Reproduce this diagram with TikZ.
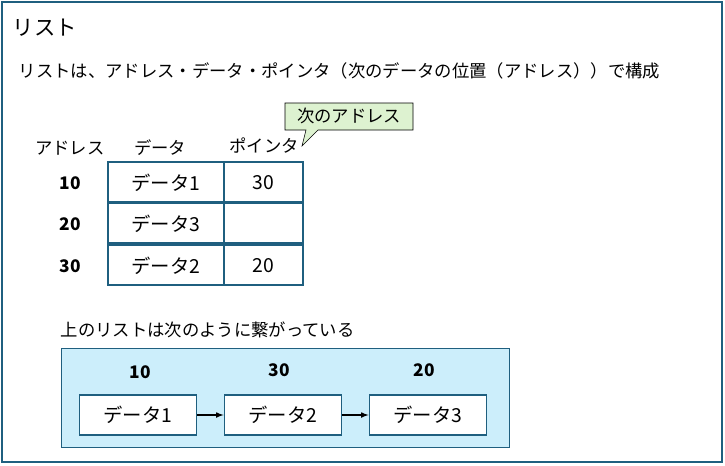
\documentclass[tikz,border=0pt]{standalone}
\usepackage{fontspec}
\setmainfont{Noto Sans CJK JP}
\definecolor{frame}{HTML}{1F5F7F}
\definecolor{skyfill}{HTML}{CCEEFB}
\definecolor{notefill}{HTML}{DDF2D0}
\tikzset{
  cell/.style={draw=frame, line width=1.2pt},
  item/.style={draw=frame, line width=1.2pt, fill=white, minimum width=88pt, minimum height=30pt, font=\fontsize{14.5}{16}\selectfont},
  lbl/.style={font=\fontsize{13}{15}\selectfont},
  num/.style={font=\fontsize{13}{15}\selectfont\bfseries},
  big/.style={font=\fontsize{14.5}{16}\selectfont},
  link/.style={-latex, line width=0.9pt}
}
\begin{document}
\begin{tikzpicture}[x=0.75pt,y=-0.75pt]
\useasboundingbox (0,0) rectangle (725,465);
\draw[frame, line width=1.5pt, fill=white] (2,2) rectangle (722,462);
\node[anchor=west, font=\fontsize{16}{18}\selectfont] (title) at (8,28) {リスト};
\node[anchor=west, lbl] (lead) at (14,71) {リストは、アドレス・データ・ポインタ（次のデータの位置（アドレス））で構成};
% table
\node[lbl] (haddr) at (70,148) {アドレス};
\node[lbl] (hdata) at (160,148) {データ};
\node[lbl] (hptr) at (264,146) {ポインタ};
\draw[draw=black, fill=notefill] (285,103) -- (413,103) -- (413,130) -- (318,130) -- (302,146) -- (306,130) -- (285,130) -- cycle;
\node[lbl] (note) at (349,116) {次のアドレス};
\foreach \y/\yy in {162/202, 203/243, 245/285}{
  \draw[cell] (108,\y) rectangle (224,\yy);
  \draw[cell] (224,\y) rectangle (303,\yy);
}
\node[num] (a1) at (70,183) {10};
\node[num] (a2) at (70,224) {20};
\node[num] (a3) at (70,266) {30};
\node[big] (d1) at (166,183) {データ1};
\node[big] (d2) at (166,224) {データ3};
\node[big] (d3) at (166,266) {データ2};
\node[big] (p1) at (263,183) {30};
\node[big] (p3) at (263,266) {20};
% chain
\node[anchor=west, lbl] (caption) at (56,330) {上のリストは次のように繋がっている};
\draw[frame, fill=skyfill] (61,348) rectangle (509,447);
\node[item] (n1) at (138,415) {データ1};
\node[item] (n2) at (283,415) {データ2};
\node[item] (n3) at (428,415) {データ3};
\node[num] (t1) at (140,372) {10};
\node[num] (t2) at (279,370) {30};
\node[num] (t3) at (424,370) {20};
\draw[link] (n1) -- (n2);
\draw[link] (n2) -- (n3);
\end{tikzpicture}
\end{document}
